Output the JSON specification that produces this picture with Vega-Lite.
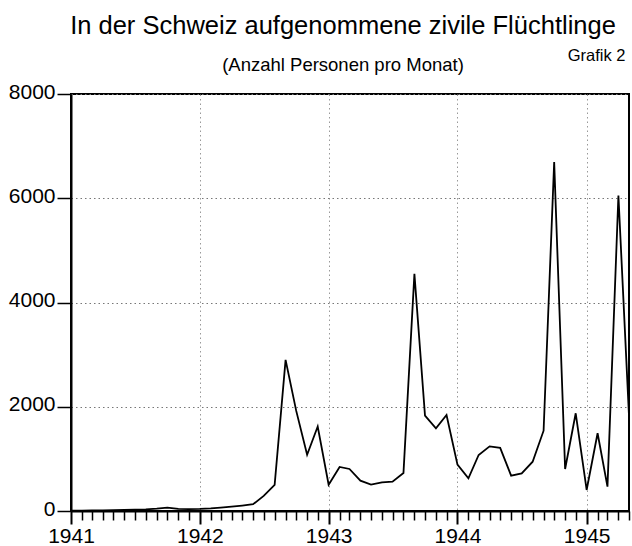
{
  "$schema": "https://vega.github.io/schema/vega-lite/v6.json",
  "width": 558,
  "height": 417,
  "autosize": {"type": "none"},
  "padding": {"left": 71, "top": 94, "right": 3, "bottom": 35},
  "background": "white",
  "config": {
    "view": {"stroke": "black", "strokeWidth": 2},
    "font": "Liberation Sans"
  },
  "title": {
    "text": "In der Schweiz aufgenommene zivile Flüchtlinge",
    "subtitle": "(Anzahl Personen pro Monat)",
    "anchor": "middle",
    "frame": "group",
    "dx": -7,
    "offset": -27,
    "font": "Liberation Sans",
    "fontSize": 25.5,
    "fontWeight": "normal",
    "color": "black",
    "subtitleFont": "Liberation Sans",
    "subtitleFontSize": 18.5,
    "subtitleColor": "black",
    "subtitlePadding": 16
  },
  "data": {
    "values": [
      {"date": "1941-01-01", "n": 5},
      {"date": "1941-02-01", "n": 5},
      {"date": "1941-03-01", "n": 10},
      {"date": "1941-04-01", "n": 10},
      {"date": "1941-05-01", "n": 15},
      {"date": "1941-06-01", "n": 20},
      {"date": "1941-07-01", "n": 25},
      {"date": "1941-08-01", "n": 30},
      {"date": "1941-09-01", "n": 45},
      {"date": "1941-10-01", "n": 65},
      {"date": "1941-11-01", "n": 40},
      {"date": "1941-12-01", "n": 35},
      {"date": "1942-01-01", "n": 40},
      {"date": "1942-02-01", "n": 50},
      {"date": "1942-03-01", "n": 65},
      {"date": "1942-04-01", "n": 85},
      {"date": "1942-05-01", "n": 105},
      {"date": "1942-06-01", "n": 130},
      {"date": "1942-07-01", "n": 290},
      {"date": "1942-08-01", "n": 500},
      {"date": "1942-09-01", "n": 2900},
      {"date": "1942-10-01", "n": 1925},
      {"date": "1942-11-01", "n": 1080},
      {"date": "1942-12-01", "n": 1620},
      {"date": "1943-01-01", "n": 505},
      {"date": "1943-02-01", "n": 845},
      {"date": "1943-03-01", "n": 806},
      {"date": "1943-04-01", "n": 582},
      {"date": "1943-05-01", "n": 505},
      {"date": "1943-06-01", "n": 551},
      {"date": "1943-07-01", "n": 563},
      {"date": "1943-08-01", "n": 729},
      {"date": "1943-09-01", "n": 4549},
      {"date": "1943-10-01", "n": 1829},
      {"date": "1943-11-01", "n": 1587},
      {"date": "1943-12-01", "n": 1843},
      {"date": "1944-01-01", "n": 890},
      {"date": "1944-02-01", "n": 627},
      {"date": "1944-03-01", "n": 1075},
      {"date": "1944-04-01", "n": 1240},
      {"date": "1944-05-01", "n": 1210},
      {"date": "1944-06-01", "n": 678},
      {"date": "1944-07-01", "n": 723},
      {"date": "1944-08-01", "n": 946},
      {"date": "1944-09-01", "n": 1541},
      {"date": "1944-10-01", "n": 6693},
      {"date": "1944-11-01", "n": 806},
      {"date": "1944-12-01", "n": 1875},
      {"date": "1945-01-01", "n": 403},
      {"date": "1945-02-01", "n": 1491},
      {"date": "1945-03-01", "n": 467},
      {"date": "1945-04-01", "n": 6052},
      {"date": "1945-05-01", "n": 1829}
    ]
  },
  "mark": {"type": "line", "color": "black", "strokeWidth": 1.8, "strokeJoin": "miter"},
  "encoding": {
    "x": {
      "field": "date",
      "type": "temporal",
      "scale": {
        "type": "utc",
        "domain": [
          {"year": 1941, "month": 1, "date": 1, "utc": true},
          {"year": 1945, "month": 5, "date": 1, "utc": true}
        ]
      },
      "axis": {
        "orient": "bottom",
        "title": null,
        "ticks": true,
        "tickCount": "month",
        "labelExpr": "utcmonth(datum.value) === 0 ? utcFormat(datum.value, '%Y') : ''",
        "grid": true,
        "gridDash": [1.5, 3],
        "gridColor": "#999999",
        "gridWidth": 1,
        "gridOpacity": {"condition": {"test": "utcmonth(datum.value) === 0", "value": 1}, "value": 0},
        "tickSize": {"condition": {"test": "utcmonth(datum.value) === 0", "value": 13}, "value": 9},
        "tickWidth": {"condition": {"test": "utcmonth(datum.value) === 0", "value": 2}, "value": 1.5},
        "tickColor": "black",
        "tickOpacity": 1,
        "domain": true,
        "domainColor": "black",
        "domainWidth": 2,
        "labelFont": "Liberation Sans",
        "labelFontSize": 21,
        "labelColor": "black",
        "labelPadding": 1,
        "labelFlush": false,
        "labelOverlap": false,
        "labelBound": false
      }
    },
    "y": {
      "field": "n",
      "type": "quantitative",
      "scale": {"domain": [0, 8000], "nice": false},
      "axis": {
        "values": [0, 2000, 4000, 6000, 8000],
        "format": "d",
        "grid": true,
        "gridDash": [1.5, 3],
        "gridColor": "#777777",
        "gridWidth": 1,
        "tickSize": 14,
        "tickWidth": 1.5,
        "tickColor": "black",
        "domainColor": "black",
        "domainWidth": 2,
        "labelFont": "Liberation Sans",
        "labelFontSize": 21,
        "labelColor": "black",
        "labelPadding": 2,
        "labelOffset": -2,
        "title": "Grafik 2",
        "titleFont": "Liberation Sans",
        "titleFontSize": 16.5,
        "titleFontWeight": "normal",
        "titleColor": "black",
        "titleAngle": 0,
        "titleAlign": "right",
        "titleBaseline": "alphabetic",
        "titleX": 554,
        "titleY": -34
      }
    }
  }
}
